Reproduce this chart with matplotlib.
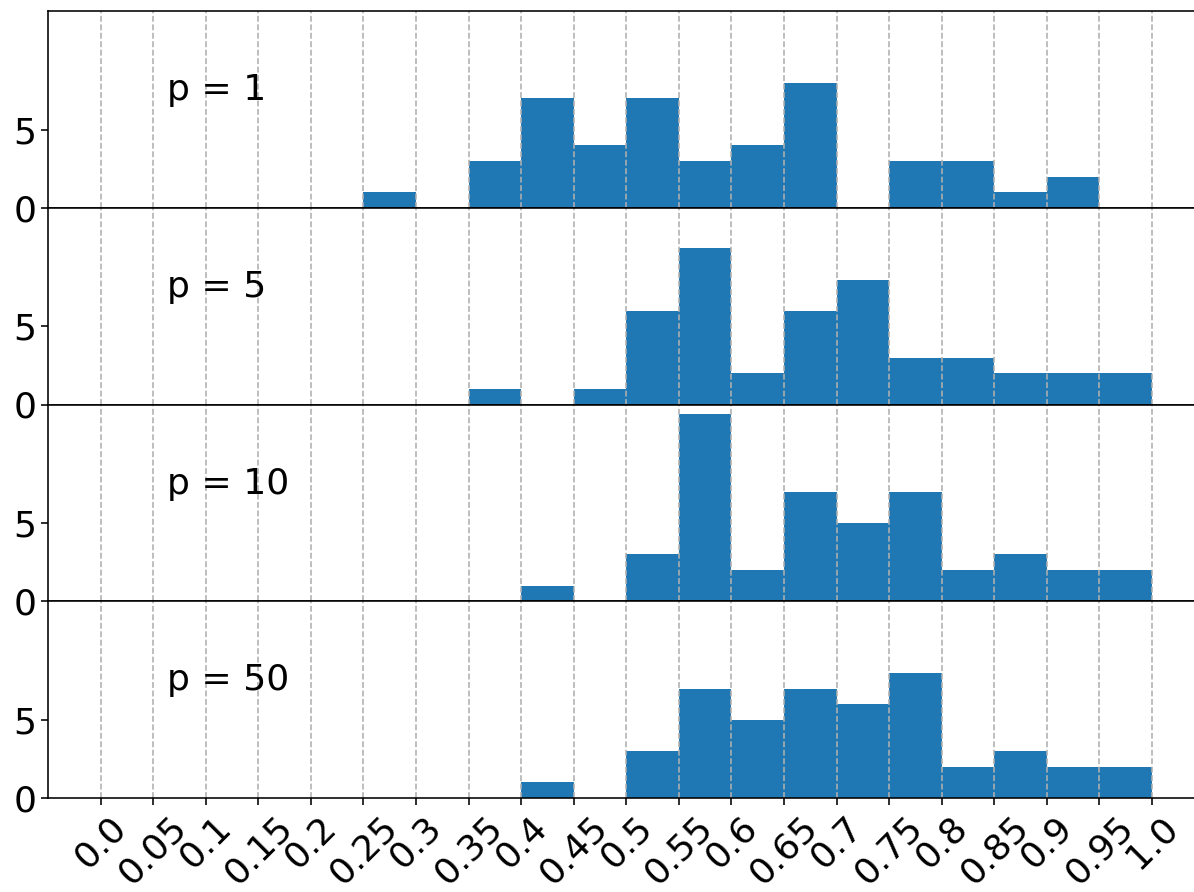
import numpy as np
import matplotlib
matplotlib.use("Agg")
import matplotlib.pyplot as plt

bin_edges = [0.0, 0.05, 0.1, 0.15, 0.2, 0.25, 0.3, 0.35, 0.4, 0.45, 0.5,
             0.55, 0.6, 0.65, 0.7, 0.75, 0.8, 0.85, 0.9, 0.95, 1.0]
tick_labels = ["0.0", "0.05", "0.1", "0.15", "0.2", "0.25", "0.3", "0.35", "0.4",
               "0.45", "0.5", "0.55", "0.6", "0.65", "0.7", "0.75", "0.8", "0.85",
               "0.9", "0.95", "1.0"]
panel_labels = ["p = 1", "p = 5", "p = 10", "p = 50"]
counts_p1 = [0, 0, 0, 0, 0, 1, 0, 3, 7, 4, 7, 3, 4, 8, 0, 3, 3, 1, 2, 0]
counts_p5 = [0, 0, 0, 0, 0, 0, 0, 1, 0, 1, 6, 10, 2, 6, 8, 3, 3, 2, 2, 2]
counts_p10 = [0, 0, 0, 0, 0, 0, 0, 0, 1, 0, 3, 12, 2, 7, 5, 7, 2, 3, 2, 2]
counts_p50 = [0, 0, 0, 0, 0, 0, 0, 0, 1, 0, 3, 7, 5, 7, 6, 8, 2, 3, 2, 2]
all_counts = [counts_p1, counts_p5, counts_p10, counts_p50]

FS = 26
LW = 1.15

fig, axes = plt.subplots(4, 1, figsize=(11.94, 8.92), dpi=100, sharex=True, sharey=True)
fig.subplots_adjust(left=48 / 1194, right=1.0, top=1 - 11 / 892, bottom=1 - 798 / 892, hspace=0)

lefts = np.array(bin_edges[:-1])
widths = np.diff(bin_edges)
for ax, counts, lab in zip(axes, all_counts, panel_labels):
    ax.bar(lefts, counts, width=widths, align="edge", color="#1f77b4")
    ax.grid(axis="x", linestyle="--", color="#b0b0b0", linewidth=LW)
    ax.set_ylim(0, 12.6)
    ax.set_yticks([0, 5])
    ax.spines["right"].set_visible(False)
    for s in ["left", "bottom", "top"]:
        ax.spines[s].set_linewidth(LW)
    ax.tick_params(axis="both", labelsize=FS, length=5, width=LW)
    ax.text(0.063, 6.9, lab, fontsize=FS, va="baseline", ha="left")

axes[-1].set_xlim(-0.05, 1.04)
axes[-1].set_xticks(bin_edges)
axes[-1].set_xticklabels(tick_labels, rotation=45)

fig.savefig("out.png", dpi=100)
